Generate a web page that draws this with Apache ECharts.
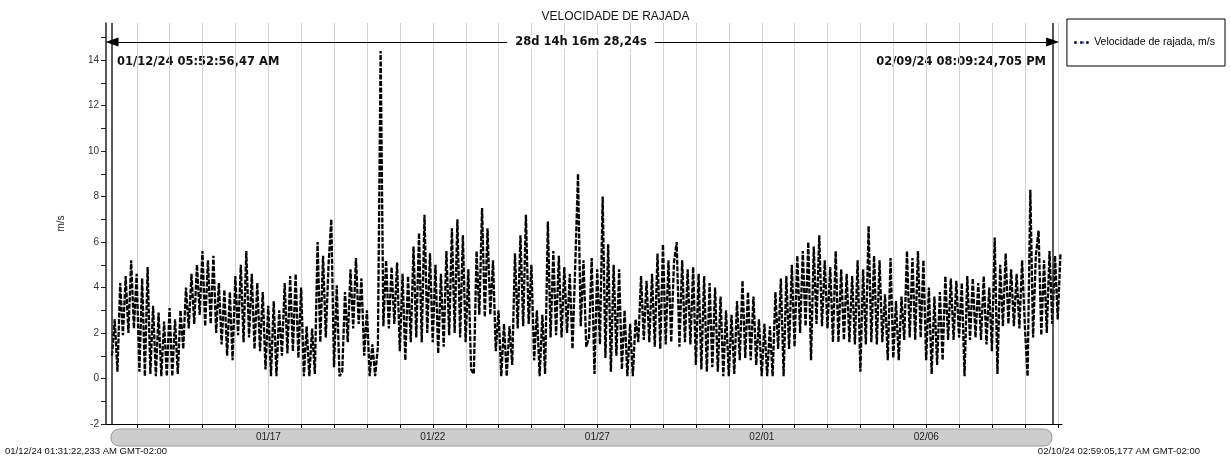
<!DOCTYPE html>
<html><head><meta charset="utf-8">
<script src="https://cdn.jsdelivr.net/npm/echarts@6/dist/echarts.min.js"></script>
<style>html,body{margin:0;padding:0;background:#fff}#c{width:1231px;height:462px}</style>
</head><body><div id="c"></div>
<script>
const chartTitle = 'VELOCIDADE DE RAJADA';
const seriesName = 'Velocidade de rajada, m/s';
const yAxisName = 'm/s';
const axisStart = '2024-01-12T01:31:22.233';
const axisEnd = '2024-02-10T02:59:05.177';
const cursorStart = '2024-01-12T05:52:56.470';
const cursorEnd = '2024-02-09T20:09:24.705';
const sampleStepHours = 2;
const xTickLabels = ['01/17', '01/22', '01/27', '02/01', '02/06'];
const yTickValues = [-2, -1, 0, 1, 2, 3, 4, 5, 6, 7, 8, 9, 10, 11, 12, 13, 14, 15];
const yLabelValues = [-2, 0, 2, 4, 6, 8, 10, 12, 14];
const startLabel = '01/12/24 05:52:56,47 AM';
const endLabel = '02/09/24 08:09:24,705 PM';
const spanLabel = '28d 14h 16m 28,24s';
const axisStartLabel = '01/12/24 01:31:22,233 AM GMT-02:00';
const axisEndLabel = '02/10/24 02:59:05,177 AM GMT-02:00';
const arrowLevel = 14.8;

// gust speed (m/s), one reading every 2 h from the start cursor
const gustValues = [
  1.0, 2.6, 0.3, 4.2, 1.9, 4.5,  2.0, 5.2, 2.2, 4.6, 0.3, 4.4,
  0.1, 4.9, 0.2, 3.2, 0.1, 2.9,  0.1, 2.5, 0.1, 3.1, 0.1, 2.6,
  0.2, 3.0, 1.3, 4.0, 2.2, 4.6,  2.4, 5.0, 2.8, 5.6, 2.3, 5.2,
  2.4, 5.4, 2.0, 4.2, 1.5, 3.9,  1.0, 3.8, 0.8, 4.5, 1.9, 5.0,
  1.6, 5.6, 1.8, 4.6, 1.3, 4.2,  1.2, 3.8, 0.4, 3.2, 0.1, 3.4,
  0.1, 3.0, 1.0, 4.2, 1.1, 4.5,  1.2, 4.6, 0.9, 4.0, 0.1, 2.3,
  0.1, 2.2, 0.2, 6.0, 1.6, 5.4,  1.8, 5.0, 7.0, 0.5, 4.1, 0.1,
  0.3, 3.8, 1.6, 4.8, 2.2, 5.3,  2.4, 4.4, 1.0, 3.0, 0.1, 1.5,
  0.1, 1.4, 14.4, 2.3, 5.2, 2.2, 4.9, 2.4, 5.1, 1.2, 4.6, 0.8,
  4.5, 1.6, 5.8, 1.8, 6.4, 1.6,  7.2, 2.0, 5.5, 1.6, 5.0, 1.1,
  4.6, 1.4, 5.6, 1.9, 6.6, 2.0,  7.0, 1.8, 6.3, 1.6, 4.8, 0.4,
  0.2, 5.6, 2.8, 7.5, 2.7, 6.6,  2.8, 5.2, 1.2, 3.0, 0.1, 2.4,
  0.1, 2.3, 0.6, 5.5, 2.2, 6.3,  2.3, 7.2, 2.4, 5.0, 0.8, 3.0,
  0.1, 2.8, 0.2, 6.9, 1.8, 5.6,  1.9, 5.4, 1.8, 4.9, 2.0, 4.6,
  1.3, 5.0, 9.0, 2.3, 5.2, 1.4,  1.8, 5.3, 0.2, 4.8, 1.5, 8.0,
  0.9, 5.9, 0.3, 5.0, 1.0, 4.8,  0.4, 3.0, 0.1, 2.4, 0.1, 2.6,
  1.6, 4.5, 1.7, 4.3, 1.6, 4.6,  1.4, 5.5, 1.3, 5.9, 1.5, 5.2,
  1.6, 5.1, 6.0, 1.4, 5.2, 1.6,  4.8, 1.5, 4.9, 0.6, 4.6, 0.4,
  4.5, 0.3, 4.2, 0.5, 4.0, 0.3,  3.6, 0.1, 3.0, 0.1, 2.8, 0.2,
  3.4, 0.8, 4.3, 0.9, 3.8, 0.8,  3.6, 0.6, 2.6, 0.1, 2.4, 0.1,
  2.3, 0.1, 3.8, 1.3, 4.4, 0.1,  4.5, 1.3, 5.0, 1.4, 5.4, 2.0,
  5.6, 2.3, 6.0, 0.8, 5.8, 2.4,  6.3, 2.3, 5.2, 2.2, 4.9, 1.6,
  5.6, 1.6, 4.8, 1.7, 4.6, 1.6,  4.5, 1.5, 5.2, 0.3, 4.8, 1.5,
  6.7, 1.6, 5.4, 1.5, 5.2, 1.6,  3.7, 0.8, 5.3, 0.9, 3.4, 0.8,
  3.6, 1.7, 5.6, 1.8, 5.3, 1.7,  5.6, 1.8, 5.2, 0.8, 4.0, 0.2,
  3.6, 0.6, 3.8, 0.8, 4.5, 1.7,  4.4, 1.7, 4.3, 1.8, 4.2, 0.1,
  4.5, 1.7, 4.4, 1.8, 4.2, 1.7,  4.5, 1.5, 4.0, 1.2, 6.2, 0.2,
  5.0, 2.3, 5.5, 2.4, 4.8, 2.3,  4.6, 2.2, 5.2, 2.3, 0.1, 8.3,
  1.8, 5.4, 6.5, 1.9, 5.2, 2.0,  5.6, 2.4, 5.4, 2.6, 5.5
];

const toMs = s => Date.parse(s + 'Z');
const tMin = toMs(axisStart), tMax = toMs(axisEnd);
const tC0 = toMs(cursorStart), tC1 = toMs(cursorEnd);
const DAY = 86400000;
const stepMs = sampleStepHours * 3600000;
const seriesData = gustValues.map((v, i) => [tC0 + i * stepMs, v]);

const dayTicks = [];
for (let t = Math.ceil(tMin / DAY) * DAY; t <= tMax; t += DAY) dayTicks.push(t);
const yearOf = new Date(tMin).getUTCFullYear();
const labelTicks = xTickLabels.map(s => {
  const [m, d] = s.split('/').map(Number);
  return Date.UTC(yearOf, m - 1, d);
});
const pad2 = n => String(n).padStart(2, '0');
const fmtMD = v => { const d = new Date(v); return pad2(d.getUTCMonth() + 1) + '/' + pad2(d.getUTCDate()); };

const chart = echarts.init(document.getElementById('c'), null, { renderer: 'canvas' });
const sans = 'Liberation Sans, Arial, sans-serif';
const boldFont = 'DejaVu Sans, Verdana, sans-serif';

chart.setOption({
  animation: false,
  backgroundColor: '#fff',
  title: {
    text: chartTitle, left: 'center', top: 6,
    textStyle: { fontFamily: sans, fontSize: 12, fontWeight: 'normal', color: '#111' }
  },
  legend: {
    data: [seriesName], right: 6, top: 19, orient: 'vertical',
    borderColor: '#000', borderWidth: 1, padding: [18, 10, 18, 6],
    itemWidth: 18, itemHeight: 3, itemGap: 4,
    textStyle: { fontFamily: sans, fontSize: 10.5, color: '#000', padding: [0, 0, 0, -3] },
    lineStyle: { type: [2.5, 3.5], width: 2.5, color: '#000' }
  },
  grid: { left: 106, right: 169, top: 23, bottom: 38 },
  xAxis: {
    type: 'value', min: tMin, max: tMax,
    axisLine: { onZero: false, lineStyle: { color: '#000', width: 1 } },
    axisTick: { customValues: dayTicks, length: 4, lineStyle: { color: '#000' } },
    axisLabel: { customValues: labelTicks, formatter: fmtMD, margin: 8,
      fontFamily: sans, fontSize: 10, color: '#222' },
    splitLine: { show: true, lineStyle: { color: '#d2d2d2', width: 1 } }
  },
  yAxis: {
    type: 'value', min: -2, max: 15.63,
    name: yAxisName, nameLocation: 'middle', nameGap: 40, nameRotate: 90,
    nameTextStyle: { fontFamily: sans, fontSize: 10, color: '#222' },
    axisLine: { show: true, lineStyle: { color: '#222', width: 1.5 } },
    axisTick: { show: true, customValues: yTickValues, length: 5, lineStyle: { color: '#222' } },
    axisLabel: { customValues: yLabelValues, margin: 7, fontFamily: sans, fontSize: 10, color: '#333' },
    splitLine: { show: false }
  },
  graphic: [
    { type: 'rect', z: -10, shape: { x: 111, y: 429, width: 941, height: 17, r: 8 },
      style: { fill: '#cdcdcd', stroke: '#9a9a9a', lineWidth: 1 } },
    { type: 'text', left: 5, top: 446,
      style: { text: axisStartLabel, fontFamily: sans, fontSize: 9.5, fill: '#111' } },
    { type: 'text', right: 31, top: 446,
      style: { text: axisEndLabel, fontFamily: sans, fontSize: 9.5, fill: '#111' } },
    { type: 'text', left: 117, top: 56,
      style: { text: startLabel, fontFamily: boldFont, fontWeight: 'bold', fontSize: 11.5, fill: '#111' } },
    { type: 'text', right: 185, top: 56,
      style: { text: endLabel, fontFamily: boldFont, fontWeight: 'bold', fontSize: 11.5, fill: '#111' } },
    { type: 'text', z: 100, x: 581, y: 42,
      style: { text: spanLabel, align: 'center', verticalAlign: 'middle',
        fontFamily: boldFont, fontWeight: 'bold', fontSize: 11.5, fill: '#111',
        backgroundColor: '#fff', padding: [1, 8] } }
  ],
  series: [{
    type: 'line', name: seriesName, data: seriesData,
    symbol: 'none', showSymbol: false,
    lineStyle: { color: '#000', width: 2.3, type: [5, 1.5] },
    markLine: {
      silent: true, animation: false, symbol: ['none', 'none'],
      label: { show: false },
      data: [
        { xAxis: tC0, lineStyle: { color: '#222', width: 1.5, type: 'solid' } },
        { xAxis: tC1, lineStyle: { color: '#222', width: 1.5, type: 'solid' } },
        [
          { coord: [tC0, arrowLevel], symbol: 'triangle', symbolSize: [9, 13] },
          { coord: [tC1, arrowLevel], symbol: 'triangle', symbolSize: [9, 13],
            lineStyle: { color: '#000', width: 1.2, type: 'solid' } }
        ]
      ]
    }
  }]
});
</script></body></html>
